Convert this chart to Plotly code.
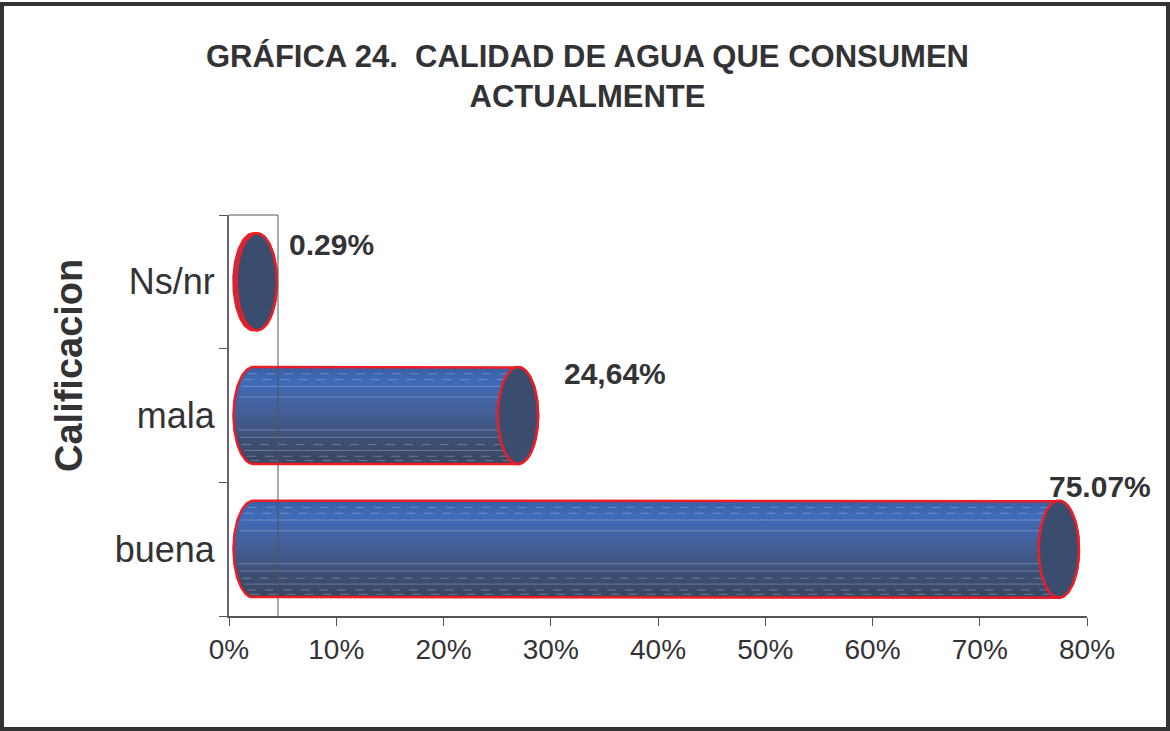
import numpy as np
import plotly.graph_objects as go

# ---- data ----
categories = ["buena", "mala", "Ns/nr"]
values = [75.07, 24.64, 0.29]
value_labels = ["75.07%", "24,64%", "0.29%"]
x_ticks = [0, 10, 20, 30, 40, 50, 60, 70, 80]
x_tick_labels = ["0%", "10%", "20%", "30%", "40%", "50%", "60%", "70%", "80%"]
title_text = "GRÁFICA 24.&nbsp;&nbsp;CALIDAD DE AGUA QUE CONSUMEN<br>ACTUALMENTE"
y_title = "Calificacion"

# ---- style ----
FONT = "Liberation Sans, Arial, Helvetica, sans-serif"
TXT = "#333336"
RED = "#ee1c25"
CAP = "#3b4d6e"
DEPTH = 2.3      # 3-D depth offset (axis units)
RX = 1.88        # ellipse half-width (axis units)
RY = 0.363       # ellipse half-height (category units)

# plot area in pixels
L, R, T, B = 229, 1170 - 1087, 215, 731 - 616
W, H = 1170, 731
PW, PH = W - L - R, H - T - B

fig = go.Figure()

theta_r = np.linspace(np.pi / 2, -np.pi / 2, 60)
theta_l = np.linspace(-np.pi / 2, -3 * np.pi / 2, 60)
theta_f = np.linspace(0, 2 * np.pi, 120)

streaks = [(0.86, "dash"), (0.74, "dash"), (0.6, "solid"), (0.38, "solid"),
           (-0.3, "solid"), (-0.45, "solid"), (-0.6, "dash"), (-0.72, "solid"),
           (-0.84, "dash"), (-0.93, "dash")]

for i, (cat, v) in enumerate(zip(categories, values)):
    x0 = DEPTH
    x1 = v + DEPTH
    yc = i
    bx = ([x0, x1] + list(x1 + RX * np.cos(theta_r)) + [x1, x0]
          + list(x0 + RX * np.cos(theta_l)))
    by = ([yc + RY, yc + RY] + list(yc + RY * np.sin(theta_r)) + [yc - RY, yc - RY]
          + list(yc + RY * np.sin(theta_l)))
    fig.add_trace(go.Scatter(
        x=bx, y=by, mode="lines", fill="toself",
        fillgradient=dict(type="vertical",
                          colorscale=[[0, "#394660"], [0.25, "#3d4f74"],
                                      [0.55, "#44609a"], [0.85, "#3f6bb8"],
                                      [1, "#3a5fa4"]]),
        line=dict(color=RED, width=2.5), hoverinfo="skip", showlegend=False))
    # faint horizontal streaks on body
    if v > 1:
        for f, dsh in streaks:
            xs0 = x0 - RX * np.sqrt(max(0, 1 - f * f)) + 0.4
            fig.add_trace(go.Scatter(
                x=[xs0, x1], y=[yc + f * RY, yc + f * RY], mode="lines",
                line=dict(color="rgba(200,212,240,0.35)", width=1, dash=dsh),
                hoverinfo="skip", showlegend=False))
    # end cap
    fig.add_trace(go.Scatter(
        x=x1 + RX * np.cos(theta_f), y=yc + RY * np.sin(theta_f),
        mode="lines", fill="toself", fillcolor=CAP,
        line=dict(color=RED, width=2.5), hoverinfo="skip", showlegend=False))

# value labels (pixel offsets from cap centre)
label_shift = [(-12, 63), (44, 42), (30, 37)]
for i, (v, lab) in enumerate(zip(values, value_labels)):
    dx, dy = label_shift[i]
    fig.add_annotation(x=v + DEPTH, y=i, xref="x", yref="y", text=f"<b>{lab}</b>",
                       showarrow=False, xanchor="left", yanchor="middle",
                       xshift=dx, yshift=dy, font=dict(size=30, color=TXT, family=FONT))

# title
fig.add_annotation(xref="paper", yref="paper", x=(587 - L) / PW, y=(H - B - 37) / PH,
                   text=f"<b>{title_text}</b>", showarrow=False, xanchor="center",
                   yanchor="top", align="center",
                   font=dict(size=31, color=TXT, family=FONT))
# y title
fig.add_annotation(xref="paper", yref="paper", x=(69 - L) / PW, y=(H - B - 366) / PH,
                   text=f"<b>{y_title}</b>", showarrow=False, textangle=-90,
                   xanchor="center", yanchor="middle",
                   font=dict(size=38, color=TXT, family=FONT))

# 3-D wall outline and outer border
wall_x = (278 - L) / PW
fig.add_shape(type="line", xref="paper", yref="paper", x0=wall_x, x1=wall_x, y0=0, y1=1,
              line=dict(color="#555", width=1))
fig.add_shape(type="line", xref="paper", yref="paper", x0=0, x1=wall_x, y0=1, y1=1,
              line=dict(color="#555", width=1))
fig.add_shape(type="rect", xref="paper", yref="paper",
              x0=(2 - L) / PW, x1=(1168 - L) / PW,
              y0=(H - B - 729) / PH, y1=(H - B - 4) / PH,
              line=dict(color="#333336", width=4))

fig.update_layout(
    width=W, height=H, margin=dict(l=L, r=R, t=T, b=B),
    paper_bgcolor="white", plot_bgcolor="white",
    font=dict(family=FONT, color=TXT),
    xaxis=dict(range=[0, 80], tickvals=x_ticks, ticktext=x_tick_labels,
               ticks="outside", ticklen=8, tickcolor="#555", tickwidth=1,
               showline=True, linecolor="#555", linewidth=1.5, showgrid=False,
               zeroline=False, tickfont=dict(size=28, color=TXT), fixedrange=True),
    yaxis=dict(range=[-0.5, 2.5], tickvals=[0, 1, 2], ticktext=categories,
               ticks="", showline=True, linecolor="#666", linewidth=2, showgrid=False,
               zeroline=False, ticklabelstandoff=5,
               tickfont=dict(size=36, color=TXT),
               minor=dict(tickvals=[-0.5, 0.5, 1.5, 2.5], ticks="outside", ticklen=8,
                          tickcolor="#555", tickwidth=1, showgrid=False),
               fixedrange=True),
)

fig.write_html("out.html", config={"displayModeBar": False},
               post_script="document.body.style.margin='0';document.body.style.overflow='hidden';")
